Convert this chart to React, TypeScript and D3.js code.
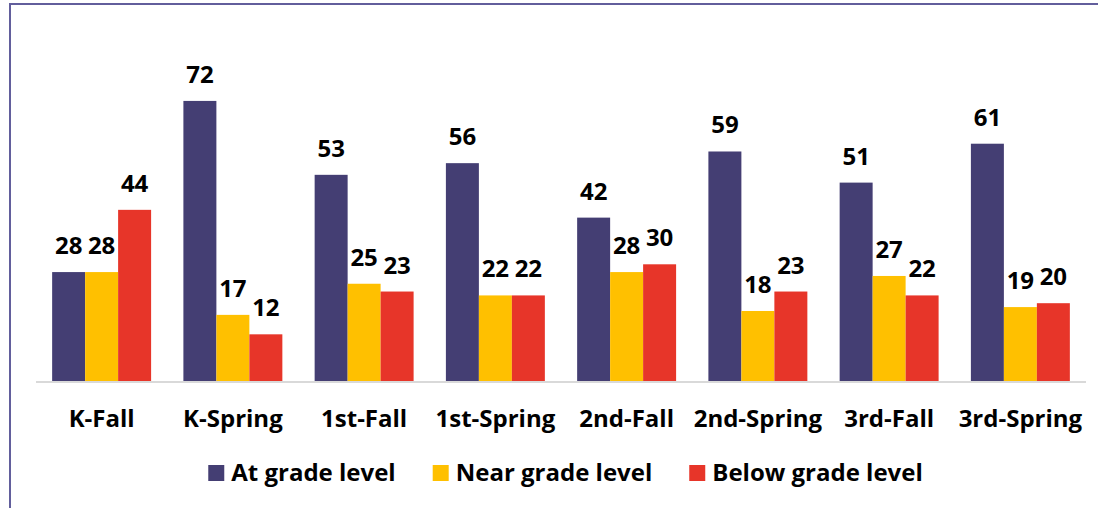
import React, { useEffect, useRef } from "react";
import * as d3 from "d3";

const categories = ["K-Fall", "K-Spring", "1st-Fall", "1st-Spring", "2nd-Fall", "2nd-Spring", "3rd-Fall", "3rd-Spring"];
const seriesNames = ["At grade level", "Near grade level", "Below grade level"];
const atGrade = [28, 72, 53, 56, 42, 59, 51, 61];
const nearGrade = [28, 17, 25, 22, 28, 18, 27, 19];
const belowGrade = [44, 12, 23, 22, 30, 23, 22, 20];
const colors = ["#443e73", "#ffc000", "#e73529"];

const App = () => {
  const ref = useRef<SVGSVGElement>(null);

  useEffect(() => {
    const width = 1098;
    const height = 508;
    const margin = { left: 36, right: 12, baseline: 381 };
    const font = "'Open Sans', sans-serif";

    const svg = d3.select(ref.current).attr("width", width).attr("height", height);
    svg.selectAll("*").remove();

    const values = [atGrade, nearGrade, belowGrade];
    const data = categories.map((c, i) => ({
      cat: c,
      vals: values.map((v, s) => ({ s, v: v[i] })),
    }));

    const x = d3
      .scaleBand()
      .domain(categories)
      .range([margin.left, width - margin.right])
      .paddingInner(0.246)
      .paddingOuter(0.123);

    const x1 = d3
      .scaleBand()
      .domain(d3.range(seriesNames.length).map(String))
      .range([0, x.bandwidth()]);

    const y = d3.scaleLinear().domain([0, 80]).range([margin.baseline, margin.baseline - 311.2]);

    // frame
    svg
      .append("path")
      .attr("d", `M10,${height} L10,4 L${width},4`)
      .attr("fill", "none")
      .attr("stroke", "#625e9c")
      .attr("stroke-width", 2);

    // axis line
    svg
      .append("line")
      .attr("x1", margin.left)
      .attr("x2", width - margin.right)
      .attr("y1", margin.baseline + 1)
      .attr("y2", margin.baseline + 1)
      .attr("stroke", "#d9d9d9")
      .attr("stroke-width", 2);

    const groups = svg
      .selectAll("g.grp")
      .data(data)
      .join("g")
      .attr("class", "grp")
      .attr("transform", (d) => `translate(${x(d.cat)},0)`);

    groups
      .selectAll("rect")
      .data((d) => d.vals)
      .join("rect")
      .attr("x", (d) => x1(String(d.s))!)
      .attr("width", x1.bandwidth())
      .attr("y", (d) => y(d.v))
      .attr("height", (d) => y(0) - y(d.v))
      .attr("fill", (d) => colors[d.s]);

    groups
      .selectAll("text")
      .data((d) => d.vals)
      .join("text")
      .attr("x", (d) => x1(String(d.s))! + x1.bandwidth() / 2)
      .attr("y", (d) => y(d.v) - 18)
      .attr("text-anchor", "middle")
      .style("font-family", font)
      .style("font-weight", 700)
      .style("font-size", "24px")
      .attr("fill", "#000")
      .text((d) => d.v);

    // category labels
    const xAxis = svg
      .append("g")
      .attr("transform", `translate(0,${margin.baseline + 1})`)
      .call(d3.axisBottom(x).tickSize(0).tickPadding(0));
    xAxis.select(".domain").remove();
    xAxis
      .selectAll("text")
      .attr("dy", 0)
      .attr("y", 45)
      .attr("fill", "#000")
      .style("font-family", font)
      .style("font-weight", 700)
      .style("font-size", "24px");

    // legend
    const legend = svg.append("g");
    const items = legend
      .selectAll("g")
      .data(seriesNames)
      .join("g");
    items
      .append("rect")
      .attr("width", 16)
      .attr("height", 16)
      .attr("y", 465)
      .attr("fill", (d, i) => colors[i]);
    const texts = items
      .append("text")
      .attr("x", 23)
      .attr("y", 481)
      .style("font-family", font)
      .style("font-weight", 700)
      .style("font-size", "24px")
      .attr("fill", "#000")
      .text((d) => d);

    const widths = texts.nodes().map((n) => (n as SVGTextElement).getComputedTextLength());
    const gap = 37;
    const total = d3.sum(widths.map((w) => 23 + w)) + gap * (widths.length - 1);
    let pos = 565.5 - total / 2;
    items.attr("transform", (d, i) => {
      const t = `translate(${pos},0)`;
      pos += 23 + widths[i] + gap;
      return t;
    });
  }, []);

  return (
    <svg
      ref={ref}
      style={{ position: "absolute", left: 0, top: 0, display: "block", background: "#fff" }}
    />
  );
};

export default App;
